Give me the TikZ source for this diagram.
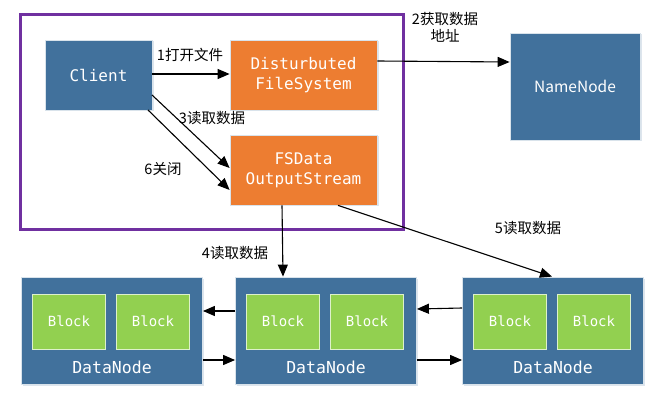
\documentclass[tikz,border=0pt]{standalone}
\usepackage{fontspec}
\setmainfont{Noto Sans CJK SC}
\newfontfamily\monofnt{DejaVu Sans Mono}
\usetikzlibrary{arrows.meta,shadows}
\definecolor{nblue}{HTML}{41719C}
\definecolor{norange}{HTML}{ED7D31}
\definecolor{ngreen}{HTML}{92D050}
\definecolor{npurple}{HTML}{7030A0}
\tikzset{
  box/.style={draw=white!80!nblue, line width=0.8pt, inner sep=0pt, text=white,
    font=\monofnt\fontsize{16}{19.5}\selectfont, align=center,
    drop shadow={shadow xshift=1.5pt, shadow yshift=-1.5pt, opacity=0.18, fill=nblue}},
  bluebox/.style={box, fill=nblue},
  orangebox/.style={box, fill=norange},
  blockbox/.style={draw=white!70!ngreen, line width=0.8pt, fill=ngreen, inner sep=0pt,
    text=white, font=\monofnt\fontsize{14}{16}\selectfont,
    minimum width=73pt, minimum height=55pt},
  dnbox/.style={bluebox, minimum width=181pt, minimum height=107pt},
  lbl/.style={font=\fontsize{14.5}{17}\selectfont, text=black, inner sep=0pt, align=center},
  arr/.style={-{Triangle[length=12pt,width=10pt]}, line width=1.1pt, black},
}
\begin{document}
\begin{tikzpicture}[x=1pt,y=-1pt]
\useasboundingbox (0,0) rectangle (660,403);
% purple frame
\draw[npurple, line width=3pt,
  drop shadow={shadow xshift=2pt, shadow yshift=-2pt, opacity=0.25, fill=gray}, fill=white]
  (20,15) rectangle (403,229);
% top nodes
\node[bluebox, minimum width=107pt, minimum height=70pt] (client) at (98.5,75) {Client};
\node[orangebox, minimum width=147pt, minimum height=70pt] (dfs) at (303.5,75) {Disturbuted\\FileSystem};
\node[orangebox, minimum width=147pt, minimum height=70pt] (fsd) at (303.5,170) {FSData\\OutputStream};
\node[bluebox, minimum width=130pt, minimum height=107pt, font=\fontsize{15.5}{18}\selectfont] (nn) at (575,86.5) {NameNode};
% datanodes
\node[dnbox] (dn1) at (112,330.5) {};
\node[dnbox] (dn2) at (326,330.5) {};
\node[dnbox] (dn3) at (553,330.5) {};
\foreach \d in {1,2,3}{
  \node[blockbox, anchor=north west] (b\d a) at ([xshift=11pt,yshift=-17pt]dn\d.north west) {Block};
  \node[blockbox, anchor=north west] (b\d b) at ([xshift=95pt,yshift=-17pt]dn\d.north west) {Block};
  \node[text=white, font=\monofnt\fontsize{16.5}{19}\selectfont, inner sep=0pt] (t\d) at ([yshift=-37pt]dn\d.center) {DataNode};
}
% arrows top
\draw[arr] (client.east |- 0,74) -- (dfs.west |- 0,74);
\node[lbl] (l1) at (190,55) {1打开文件};
\draw[arr] (dfs.east |- 0,61) -- (nn.west |- 0,62);
\node[lbl] (l2) at (445,27) {2获取数据\\地址};
\coordinate (c3) at (152,95);
\coordinate (c6) at (148,110);
\draw[arr] (c3) -- (fsd.west |- 0,168);
\draw[arr] (c6) -- (fsd.west |- 0,190);
\node[lbl] (l3) at (212,118) {3读取数据};
\node[lbl] (l6) at (163,169) {6关闭};
% arrows down
\draw[arr] (fsd.south -| 282,0) -- (dn2.north -| 283,0);
\node[lbl] (l4) at (235,253) {4读取数据};
\draw[arr] (fsd.south -| 338,0) -- (dn3.north -| 552,0);
\node[lbl] (l5) at (528,228) {5读取数据};
% between datanodes
\draw[arr] (dn2.west |- 0,311) -- (dn1.east |- 0,311);
\draw[arr] (dn1.east |- 0,360) -- (dn2.west |- 0,360);
\draw[arr] (dn3.west |- 0,308) -- (dn2.east |- 0,309);
\draw[arr] (dn2.east |- 0,360) -- (dn3.west |- 0,360);
\end{tikzpicture}
\end{document}
